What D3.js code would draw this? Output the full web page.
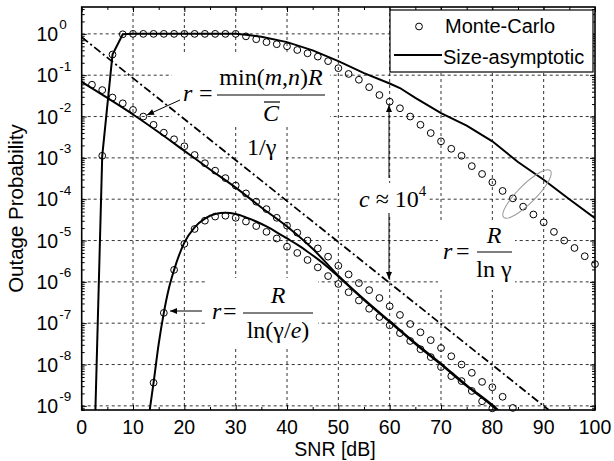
<!DOCTYPE html>
<html><head><meta charset="utf-8">
<script src="https://cdn.jsdelivr.net/npm/d3@7"></script>
<style>body{margin:0;background:#fff}svg{display:block}</style>
</head><body>
<svg id="c" width="614" height="461"></svg>
<script>
// ---------- data (*Exp arrays are log10 of the outage probability) ----------
const xTicks = [0,10,20,30,40,50,60,70,80,90,100];
const yTickExps = [0,-1,-2,-3,-4,-5,-6,-7,-8,-9];

// Size-asymptotic, r = min(m,n)R / C-bar
const lineTopSnr = [2,4,6,8,10,30,32,35,40,45,50,55,60,62,65,70,75,80,85,90,95,100];
const lineTopExp = [-12.2,-2.95,-0.5,-0.01,0,0,-0.02,-0.07,-0.2,-0.4,-0.66,-0.95,-1.2,-1.31,-1.55,-1.92,-2.22,-2.6,-3.1,-3.53,-4.0,-4.46];
// Size-asymptotic, r = R / ln(gamma)
const lineMidSnr = [0,5,10,15,20,25,30,35,40,45,50,55,60,65,70,75,80,82];
const lineMidExp = [-1.16,-1.55,-1.95,-2.38,-2.83,-3.28,-3.72,-4.2,-4.66,-5.2,-5.85,-6.42,-6.95,-7.48,-7.98,-8.5,-8.98,-9.2];
// Size-asymptotic, r = R / ln(gamma/e)
const lineBumpSnr = [13.2,14,15,16,17,18,20,22,24,26,28,30,32,34,36,38,40,42,44,46,48,50,55,60,65,70,75,80,82];
const lineBumpExp = [-9.15,-8.44,-7.5,-6.75,-6.15,-5.71,-5.05,-4.68,-4.47,-4.36,-4.33,-4.36,-4.44,-4.54,-4.66,-4.8,-4.95,-5.1,-5.27,-5.45,-5.65,-5.87,-6.44,-6.97,-7.5,-8.0,-8.52,-9.0,-9.22];
// 1/gamma reference (dash-dot)
const refSnr = [0,91];
const refExp = [-0.08,-9.1];

// Monte-Carlo points
const mcTopSnr = [4,6,8,10,12,14,16,18,20,22,24,26,28,30,32,34,36,38,40,42,44,46,48,50,52,54,56,58,60,62,64,66,68,70,72,74,76,78,80,82,84,86,88,90,92,94,96,98,100];
const mcTopExp = [-2.95,-0.5,-0.01,0,0,0,0,0,0,0,0,0,0,0,-0.06,-0.13,-0.2,-0.25,-0.3,-0.39,-0.47,-0.55,-0.66,-0.83,-0.97,-1.11,-1.29,-1.48,-1.64,-1.8,-2.0,-2.2,-2.4,-2.6,-2.78,-2.95,-3.2,-3.39,-3.59,-3.8,-3.98,-4.18,-4.37,-4.56,-4.79,-5.0,-5.18,-5.38,-5.57];
const mcMidSnr = [2,4,6,8,10,12,14,16,18,20,22,24,26,28,30,32,34,36,38,40,42,44,46,48,50,52,54,56,58,60,62,64,66,68,70,72,74,76,78,80,82,84];
const mcMidExp = [-1.23,-1.36,-1.54,-1.68,-1.84,-2.0,-2.2,-2.39,-2.55,-2.72,-2.93,-3.13,-3.31,-3.49,-3.67,-3.86,-4.06,-4.24,-4.45,-4.64,-4.81,-5.0,-5.19,-5.39,-5.61,-5.82,-6.03,-6.2,-6.39,-6.59,-6.8,-7.02,-7.22,-7.41,-7.6,-7.8,-8.0,-8.2,-8.42,-8.55,-8.78,-9.05];
const mcBumpSnr = [14,16,18,20,22,24,26,28,30,32,34,36,38,40,42,44,46,48,50,52,54,56,58,60,62,64,66,68,70,72,74,76,78,80];
const mcBumpExp = [-8.44,-6.75,-5.71,-5.08,-4.72,-4.52,-4.42,-4.4,-4.45,-4.54,-4.65,-4.79,-4.95,-5.15,-5.3,-5.47,-5.65,-5.86,-6.05,-6.25,-6.45,-6.65,-6.85,-7.05,-7.24,-7.43,-7.63,-7.82,-8.06,-8.28,-8.4,-8.64,-8.89,-9.06];

const legendLabels = ["Monte-Carlo","Size-asymptotic"];
const xLabel = "SNR [dB]", yLabel = "Outage Probability";

// ---------- layout ----------
const L=81.7, R=595, T=7, B=410;
const SANS = "'Liberation Sans', Arial, sans-serif";
const SERIF = "'Liberation Serif', 'Times New Roman', serif";
const svg = d3.select("#c");
const x = d3.scaleLinear().domain([0,100]).range([L,R]);
const y = d3.scaleLog().domain([Math.pow(10,-9.1), Math.pow(10,0.65)]).range([B,T]);
const pts = (s,e) => s.map((v,i)=>[v, Math.pow(10,e[i])]);

svg.append("defs").append("clipPath").attr("id","clip")
  .append("rect").attr("x",L).attr("y",T).attr("width",R-L).attr("height",B-T);

// grid
const grid = svg.append("g").attr("stroke","#000").attr("stroke-width",0.8).attr("stroke-dasharray","3,3");
xTicks.filter(v=>v>0&&v<100).forEach(v=>grid.append("line").attr("x1",x(v)).attr("x2",x(v)).attr("y1",T).attr("y2",B));
yTickExps.forEach(e=>grid.append("line").attr("x1",L).attr("x2",R).attr("y1",y(Math.pow(10,e))).attr("y2",y(Math.pow(10,e))));

// white label backgrounds (hide grid behind annotations)
const boxes = [[172,55,330,127],[238,133,286,163],[340,183,428,216],[438,220,515,290],[205,278,318,348]];
boxes.forEach(b=>svg.append("rect").attr("x",b[0]).attr("y",b[1]).attr("width",b[2]-b[0]).attr("height",b[3]-b[1]).attr("fill","#fff"));

// axes ticks
const minorX = d3.range(5,100,10);
const minorY = [];
for (let d=-10; d<=0; d++) for (let k=2;k<=9;k++){ const v=k*Math.pow(10,d); if (v>y.domain()[0] && v<y.domain()[1]) minorY.push(v); }
const majorY = yTickExps.map(e=>Math.pow(10,e));
function ax(gen, tr, vals, size){
  const g = svg.append("g").attr("transform",tr).call(gen.tickValues(vals).tickSize(size).tickFormat(""));
  g.select(".domain").remove();
  g.selectAll("line").attr("stroke","#000").attr("stroke-width",1);
  return g;
}
ax(d3.axisBottom(x), `translate(0,${B})`, xTicks, -5);
ax(d3.axisBottom(x), `translate(0,${B})`, minorX, -3);
ax(d3.axisTop(x), `translate(0,${T})`, xTicks, -5);
ax(d3.axisTop(x), `translate(0,${T})`, minorX, -3);
ax(d3.axisLeft(y), `translate(${L},0)`, majorY, -5);
ax(d3.axisLeft(y), `translate(${L},0)`, minorY, -3);
ax(d3.axisRight(y), `translate(${R},0)`, majorY, -5);
ax(d3.axisRight(y), `translate(${R},0)`, minorY, -3);

// tick labels
xTicks.forEach(v=>svg.append("text").attr("x",x(v)).attr("y",434).attr("text-anchor","middle")
  .attr("font-family",SANS).attr("font-size",19.5).text(v));
yTickExps.forEach(e=>{
  const yy = y(Math.pow(10,e));
  const t = svg.append("text").attr("x",36.5).attr("y",yy+7).attr("font-family",SANS).attr("font-size",19.5);
  t.append("tspan").text("10");
  t.append("tspan").attr("font-size",13.5).attr("dy",-11.5).attr("dx",1).text(e===0?"0":"-"+(-e));
});
svg.append("text").attr("x",335).attr("y",456).attr("text-anchor","middle").attr("font-family",SANS).attr("font-size",19.5).text(xLabel);
svg.append("text").attr("transform",`translate(23,${(T+B)/2}) rotate(-90)`).attr("text-anchor","middle")
  .attr("font-family",SANS).attr("font-size",20.5).text(yLabel);

// data lines
const lineG = svg.append("g").attr("clip-path","url(#clip)").attr("fill","none").attr("stroke","#000");
const lin = d3.line().x(d=>x(d[0])).y(d=>y(d[1]));
const smooth = d3.line().x(d=>x(d[0])).y(d=>y(d[1])).curve(d3.curveMonotoneX);
lineG.append("path").attr("d",lin(pts(refSnr,refExp))).attr("stroke-width",1.8).attr("stroke-dasharray","8,3,2,3");
lineG.append("path").attr("d",lin(pts(lineTopSnr,lineTopExp))).attr("stroke-width",2);
lineG.append("path").attr("d",smooth(pts(lineMidSnr,lineMidExp))).attr("stroke-width",2);
lineG.append("path").attr("d",smooth(pts(lineBumpSnr,lineBumpExp))).attr("stroke-width",2);

// Monte-Carlo markers
const mk = svg.append("g").attr("fill","none").attr("stroke","#000").attr("stroke-width",1);
[[mcTopSnr,mcTopExp],[mcMidSnr,mcMidExp],[mcBumpSnr,mcBumpExp]].forEach(([s,e])=>{
  pts(s,e).forEach(p=>mk.append("circle").attr("cx",x(p[0])).attr("cy",y(p[1])).attr("r",3.4));
});

// axes box
svg.append("rect").attr("x",L).attr("y",T).attr("width",R-L).attr("height",B-T).attr("fill","none").attr("stroke","#000").attr("stroke-width",1.6);

// legend
const lg = svg.append("g");
lg.append("rect").attr("x",390).attr("y",10).attr("width",203).attr("height",62).attr("fill","#fff").attr("stroke","#000").attr("stroke-width",1.2);
lg.append("circle").attr("cx",419).attr("cy",26.5).attr("r",3.4).attr("fill","none").attr("stroke","#000");
lg.append("line").attr("x1",394).attr("x2",442).attr("y1",55).attr("y2",55).attr("stroke","#000").attr("stroke-width",2);
lg.append("text").attr("x",445).attr("y",33).attr("font-family",SANS).attr("font-size",20).text(legendLabels[0]);
lg.append("text").attr("x",443).attr("y",64).attr("font-family",SANS).attr("font-size",20).text(legendLabels[1]);

// annotations
const ann = svg.append("g").attr("font-family",SERIF).attr("fill","#000");
function txt(xx,yy,parts,anchor,size){
  const t = ann.append("text").attr("x",xx).attr("y",yy).attr("font-size",size||24).attr("text-anchor",anchor||"start");
  parts.forEach(p=>{ const s=t.append("tspan").text(p[0]); if(p[1]) s.attr("font-style","italic"); if(p[2]) s.attr("font-size",p[2]).attr("dy",p[3]); });
  return t;
}
function hline(x1,x2,yy){ ann.append("line").attr("x1",x1).attr("x2",x2).attr("y1",yy).attr("y2",yy).attr("stroke","#000").attr("stroke-width",1.2); }
function arrow(x1,y1,x2,y2){
  ann.append("line").attr("x1",x1).attr("y1",y1).attr("x2",x2).attr("y2",y2).attr("stroke","#000").attr("stroke-width",1);
  const a=Math.atan2(y2-y1,x2-x1), l=7, w=3;
  const bx=x2-l*Math.cos(a), by=y2-l*Math.sin(a);
  ann.append("path").attr("d",`M${x2},${y2}L${bx+w*Math.sin(a)},${by-w*Math.cos(a)}L${bx-w*Math.sin(a)},${by+w*Math.cos(a)}Z`).attr("fill","#000");
}
// r = min(m,n)R / C-bar
txt(183,101,[["r",1]]); txt(199,101,[["="]]);
txt(271,85,[["min("],["m",1],[","],["n",1],[")"],["R",1]],"middle");
hline(217,325,95);
txt(271,121,[["C",1]],"middle");
hline(264,280,102);
arrow(180,100,147,115);
// 1/gamma
txt(247,155,[["1/γ"]]);
// c ~ 10^4
txt(359,207,[["c",1],[" ≈ 10"],["4",0,15,-11]]);
arrow(389,178,389,105);
arrow(389,213,389,279);
// ellipse
svg.append("ellipse").attr("cx",527).attr("cy",194).attr("rx",33).attr("ry",9).attr("transform","rotate(-45 527 194)")
  .attr("fill","none").attr("stroke","#999").attr("stroke-width",1);
// r = R / ln gamma
txt(443,259,[["r",1]]); txt(456,259,[["="]]);
txt(494,243,[["R",1]],"middle"); hline(477,512,252); txt(494,277,[["ln γ"]],"middle");
// r = R / ln(gamma/e)
txt(212,319,[["r",1]]); txt(223,319,[["="]]);
txt(278,303,[["R",1]],"middle"); hline(243,313,313); txt(278,338,[["ln(γ/"],["e",1],[")"]],"middle");
arrow(202,311,170,311);
</script>
</body></html>
